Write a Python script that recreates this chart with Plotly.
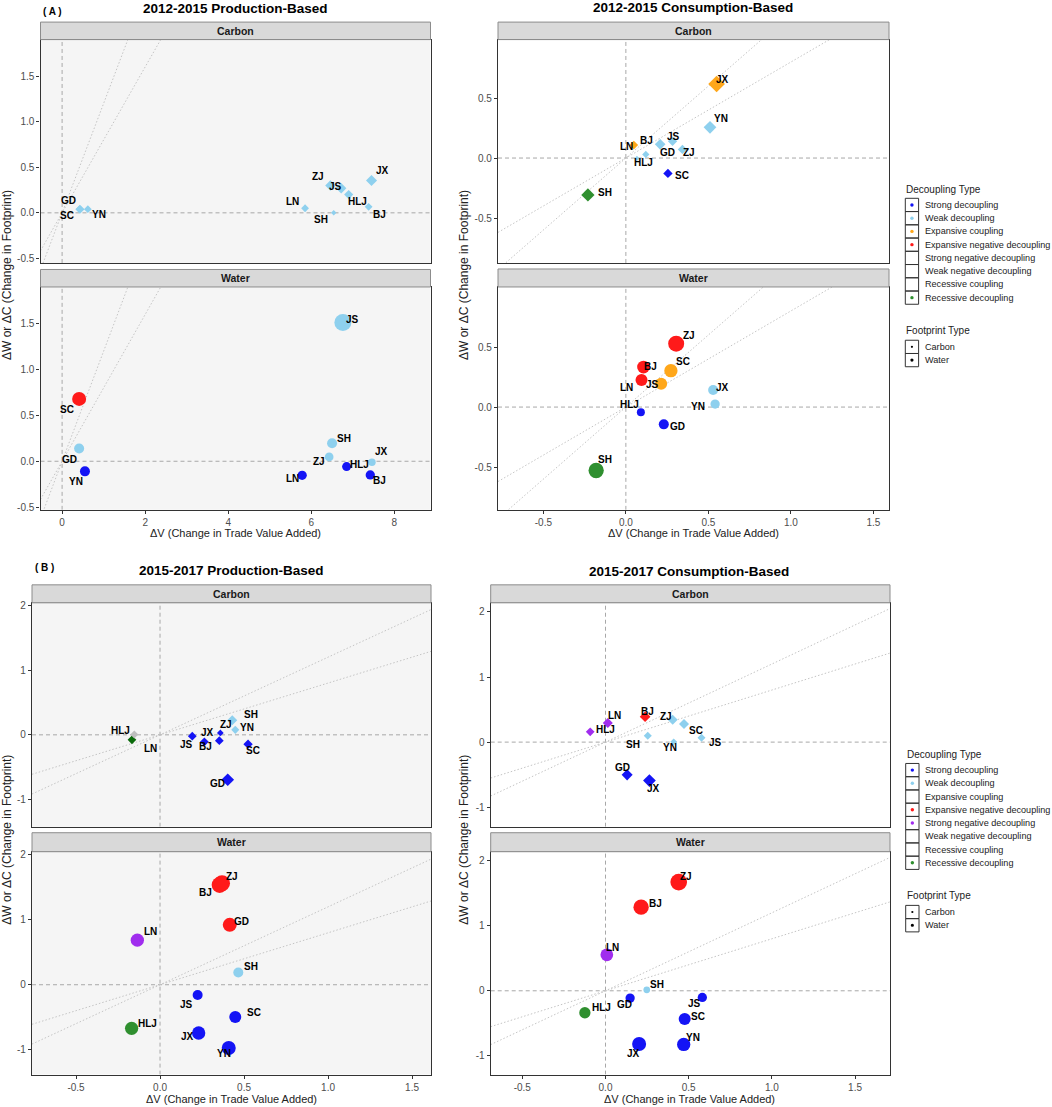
import plotly.graph_objects as go

W = 1052
H = 1107

## province order is the same for every panel
labels = ["BJ", "GD", "HLJ", "JS", "JX", "LN", "SC", "SH", "YN", "ZJ"]

## (A) 2012-2015 production, carbon
ap_c_x = [7.38, 0.43, 6.90, 6.72, 7.45, 5.85, 0.42, 6.54, 0.62, 6.46]
ap_c_y = [0.066, 0.04, 0.20, 0.27, 0.355, 0.05, 0.04, 0.0, 0.04, 0.30]
ap_c_type = ["W", "W", "W", "W", "W", "W", "W", "W", "W", "W"]
ap_c_size = [6, 7, 7, 8, 8.5, 6, 6, 4.2, 6, 8]
ap_c_dx = [11.3, -11.3, 9, -5.3, 10.7, -12.7, -12.7, -12.3, 11, -12.7]
ap_c_dy = [-7.3, 9, -6.7, 1.7, 10, 7, -6, -6.7, -5.3, 9]

## (A) 2012-2015 production, water
ap_w_x = [7.42, 0.41, 6.85, 6.76, 7.46, 5.78, 0.41, 6.50, 0.55, 6.43]
ap_w_y = [-0.149, 0.14, -0.058, 1.513, -0.01, -0.153, 0.68, 0.196, -0.11, 0.047]
ap_w_type = ["S", "W", "S", "W", "W", "S", "EN", "W", "S", "W"]
ap_w_size = [9.3, 10, 9, 17, 7.5, 9.3, 14, 10, 10, 8.7]
ap_w_dx = [9.3, -10, 13.3, 9.3, 9.3, -10, -12, 11.7, -9, -10]
ap_w_dy = [-6, -11, 2, 3.3, 10.3, -3, -11, 4.3, -10, -4.3]

## (A) 2012-2015 consumption, carbon
ac_c_x = [0.121, 0.208, 0.067, 0.283, 0.55, 0.048, 0.255, -0.23, 0.51, 0.343]
ac_c_y = [0.03, 0.114, -0.003, 0.139, 0.617, 0.108, -0.128, -0.308, 0.256, 0.072]
ac_c_type = ["W", "W", "W", "W", "EC", "EC", "S", "RD", "W", "W"]
ac_c_size = [5.6, 8.2, 4, 7.2, 12.8, 6.7, 7.2, 10.2, 9.8, 7.2]
ac_c_dx = [1, 7, 7, 0.7, 6, -7, 14.3, 17.3, 10.7, 6.3]
ac_c_dy = [14, -8.3, -4, 5.3, 4.7, -1.7, -2.3, 2.7, 9.3, -2.7]

## (A) 2012-2015 consumption, water
ac_w_x = [0.107, 0.23, 0.091, 0.214, 0.529, 0.095, 0.273, -0.18, 0.541, 0.305]
ac_w_y = [0.333, -0.144, -0.044, 0.194, 0.142, 0.225, 0.303, -0.528, 0.025, 0.528]
ac_w_type = ["EN", "S", "S", "EC", "W", "EN", "EC", "RD", "W", "EN"]
ac_w_size = [12.7, 10, 8, 12, 10, 12, 13.3, 15.3, 9.3, 16]
ac_w_dx = [7.3, 13.3, -11, -9, 9.3, -15, 11.7, 9, -17, 13]
ac_w_dy = [0.7, -2, 8, -0.3, 2.7, -7.3, 8.7, 11.3, -2, 8]

## (B) 2015-2017 production, carbon
bp_c_x = [0.264, 0.403, -0.167, 0.192, 0.353, -0.153, 0.524, 0.43, 0.448, 0.359]
bp_c_y = [-0.108, -0.694, -0.077, -0.02, -0.09, 0.005, -0.144, 0.226, 0.077, 0.03]
bp_c_type = ["S", "S", "DG", "S", "S", "GR", "S", "W", "W", "S"]
bp_c_size = [6.7, 9.8, 6.7, 6.7, 6.7, 6.2, 7.2, 7.7, 6.2, 5.2]
bp_c_dx = [1, -10, -11, -5.7, -11.7, 16, 5.3, 18.7, 11.3, 5.3]
bp_c_dy = [-4.7, -3.7, 9.7, -8.7, 8, -14, -6.3, 6, 2, 8.3]

## (B) 2015-2017 production, water
bp_w_x = [0.355, 0.415, -0.169, 0.224, 0.23, -0.135, 0.448, 0.466, 0.409, 0.369]
bp_w_y = [1.538, 0.923, -0.672, -0.159, -0.744, 0.687, -0.497, 0.19, -0.974, 1.564]
bp_w_type = ["EN", "EN", "RD", "S", "S", "SN", "S", "W", "S", "EN"]
bp_w_size = [16, 14, 13.3, 10, 13.3, 13.3, 12, 10, 14, 16]
bp_w_dx = [-14, 12, 15.7, -11, -11.3, 13.3, 18.3, 13, -4.7, 10]
bp_w_dy = [-8, 3, 5, -9.7, -3.7, 8.3, 4.3, 6.3, -6, 7]

## (B) 2015-2017 consumption, carbon
bc_c_x = [0.238, 0.13, -0.092, 0.577, 0.264, 0.014, 0.472, 0.254, 0.41, 0.404]
bc_c_y = [0.39, -0.503, 0.159, 0.067, -0.59, 0.292, 0.277, 0.097, 0.005, 0.344]
bc_c_type = ["EN", "S", "SN", "W", "S", "SN", "W", "W", "W", "W"]
bc_c_size = [8.2, 8.5, 6.7, 6.2, 9.8, 7.7, 7.7, 6.2, 5.2, 7.7]
bc_c_dx = [2.3, -4.7, 15.3, 14, 4.3, 6.3, 12, -14.3, -3.7, -7]
bc_c_dy = [5.7, 7.7, 2.7, -5, -8, 7.3, -6, -9, -5.7, 3.3]

## (B) 2015-2017 consumption, water
bc_w_x = [0.214, 0.148, -0.124, 0.582, 0.202, 0.008, 0.476, 0.248, 0.47, 0.44]
bc_w_y = [1.287, -0.113, -0.338, -0.103, -0.82, 0.554, -0.436, 0.015, -0.826, 1.672]
bc_w_type = ["EN", "S", "RD", "S", "S", "SN", "S", "W", "S", "EN"]
bc_w_size = [15.3, 9.3, 11.3, 9.3, 14, 12.7, 12, 6.7, 13.3, 16.7]
bc_w_dx = [14.7, -6, 17, -8, -6, 5.3, 13.7, 10.3, 9, 7.7]
bc_w_dy = [3.3, -6, 5, -5.7, -9.3, 7.3, 3, 5.7, 7.3, 5.7]

## elasticity guide lines through the origin
slopes = [0.8, 1.2]

colors = {"S": "#1414F5", "W": "#8ED0EE", "EC": "#FFA71A", "EN": "#FF1A1A",
          "SN": "#A02DEE", "RD": "#2F8F2F", "DG": "#0A6A0A", "GR": "#BEBEBE"}

decoupling_names = ["Strong decoupling", "Weak decoupling", "Expansive coupling",
                    "Expansive negative decoupling", "Strong negative decoupling",
                    "Weak negative decoupling", "Recessive coupling", "Recessive decoupling"]
legend_a_keys = ["S", "W", "EC", "EN", None, None, None, "RD"]
legend_b_keys = ["S", "W", None, "EN", "SN", None, None, "RD"]
footprint_names = ["Carbon", "Water"]

ticks_a_prod_x = [0, 2, 4, 6, 8]
ticks_a_prod_y = [-0.5, 0, 0.5, 1, 1.5]
ticks_a_prod_y_text = ["-0.5", "0.0", "0.5", "1.0", "1.5"]
ticks_cons_x = [-0.5, 0, 0.5, 1, 1.5]
ticks_cons_x_text = ["-0.5", "0.0", "0.5", "1.0", "1.5"]
ticks_a_cons_y = [-0.5, 0, 0.5]
ticks_a_cons_y_text = ["-0.5", "0.0", "0.5"]
ticks_b_y = [-1, 0, 1, 2]
ticks_b_y_text = ["-1", "0", "1", "2"]

FONT = "Liberation Sans"
fig = go.Figure()
shapes = []
annots = []
axis_no = 0


def px(x):
    return x / W


def py(y):
    ## the rendered plot area came out about 3px short at top and bottom
    return 1 - (y - 2.9) / (H - 5.5)


def paper_text(x, y, text, size, bold=False, color="#111111", angle=0, anchor="center"):
    annots.append(dict(xref="paper", yref="paper", x=px(x), y=py(y), showarrow=False,
                       text="<b>{}</b>".format(text) if bold else text, textangle=angle,
                       xanchor=anchor, yanchor="middle",
                       font=dict(family=FONT, size=size, color=color)))


def add_panel(name, xs, ys, types, sizes, dxs, dys, symbol, left, right, strip_top, top, bottom,
              xrange, yrange, xticks, xtext, yticks, ytext, bg, show_x):
    global axis_no
    axis_no += 1
    suffix = "" if axis_no == 1 else str(axis_no)
    xa = "x" + suffix
    ya = "y" + suffix
    fig.layout["xaxis" + suffix] = dict(domain=[px(left), px(right)], range=xrange, anchor=ya,
                                        showgrid=False, zeroline=False, showline=True, mirror=True,
                                        linecolor="#333333", linewidth=1.3,
                                        ticks="outside" if show_x else "", ticklen=3, tickcolor="#333333",
                                        tickvals=xticks if show_x else [], ticktext=xtext if show_x else [],
                                        tickfont=dict(family=FONT, size=10, color="#4D4D4D"))
    fig.layout["yaxis" + suffix] = dict(domain=[py(bottom), py(top)], range=yrange, anchor=xa,
                                        showgrid=False, zeroline=False, showline=True, mirror=True,
                                        linecolor="#333333", linewidth=1.3,
                                        ticks="outside", ticklen=3, tickcolor="#333333",
                                        tickvals=yticks, ticktext=ytext,
                                        tickfont=dict(family=FONT, size=10, color="#4D4D4D"))
    ## panel background, facet strip and zero lines
    shapes.append(dict(type="rect", xref="paper", yref="paper", x0=px(left), x1=px(right),
                       y0=py(bottom), y1=py(top), fillcolor=bg, line_width=0, layer="below"))
    shapes.append(dict(type="rect", xref="paper", yref="paper", x0=px(left), x1=px(right),
                       y0=py(top), y1=py(strip_top), fillcolor="#D9D9D9",
                       line=dict(color="#8C8C8C", width=1)))
    paper_text((left + right) / 2, (strip_top + top) / 2, name, 10.5, bold=True, color="#1A1A1A")
    shapes.append(dict(type="line", xref=xa, yref=ya, x0=0, x1=0, y0=yrange[0], y1=yrange[1],
                       line=dict(color="#A8A8A8", width=1, dash="4px,3px"), layer="below"))
    shapes.append(dict(type="line", xref=xa, yref=ya, x0=xrange[0], x1=xrange[1], y0=0, y1=0,
                       line=dict(color="#A8A8A8", width=1, dash="4px,3px"), layer="below"))
    for s in slopes:
        fig.add_trace(go.Scatter(x=xrange, y=[xrange[0] * s, xrange[1] * s], mode="lines", xaxis=xa, yaxis=ya,
                                 line=dict(color="#C4C4C4", width=1, dash="1.5px,2px"),
                                 hoverinfo="skip", showlegend=False))
    fig.add_trace(go.Scatter(x=xs, y=ys, mode="markers", xaxis=xa, yaxis=ya, text=labels,
                             marker=dict(symbol=symbol, size=sizes, color=[colors[t] for t in types],
                                         opacity=1, line_width=0),
                             showlegend=False))
    for lab, x, y, dx, dy in zip(labels, xs, ys, dxs, dys):
        annots.append(dict(xref=xa, yref=ya, x=x, y=y, xshift=dx, yshift=dy, text="<b>{}</b>".format(lab),
                           showarrow=False, font=dict(family=FONT, size=10, color="#000000")))


def add_legend(box_left, title_y, keys_top, keys, foot_title_y, foot_top):
    row = 13.25
    box_w = 13.3
    text_left = box_left + 17.5
    paper_text(box_left - 1, title_y, "Decoupling Type", 10, color="#222222", anchor="left")
    for i, name in enumerate(decoupling_names):
        y0 = keys_top + i * row
        shapes.append(dict(type="rect", xref="paper", yref="paper", x0=px(box_left), x1=px(box_left + box_w),
                           y0=py(y0 + row), y1=py(y0), line=dict(color="#333333", width=1)))
        if keys[i] is not None:
            cx = box_left + box_w / 2
            cy = y0 + row / 2
            r = 1.7
            shapes.append(dict(type="circle", xref="paper", yref="paper", x0=px(cx - r), x1=px(cx + r),
                               y0=py(cy + r), y1=py(cy - r), fillcolor=colors[keys[i]], line_width=0))
        paper_text(text_left, y0 + row / 2, name, 9.1, color="#222222", anchor="left")
    paper_text(box_left - 1, foot_title_y, "Footprint Type", 10, color="#222222", anchor="left")
    for i, name in enumerate(footprint_names):
        y0 = foot_top + i * row
        shapes.append(dict(type="rect", xref="paper", yref="paper", x0=px(box_left), x1=px(box_left + box_w),
                           y0=py(y0 + row), y1=py(y0), line=dict(color="#333333", width=1)))
        cx = box_left + box_w / 2
        cy = y0 + row / 2
        r = 1.1 if i == 0 else 1.6
        shapes.append(dict(type="circle", xref="paper", yref="paper", x0=px(cx - r), x1=px(cx + r),
                           y0=py(cy + r), y1=py(cy - r), fillcolor="#000000", line_width=0))
        paper_text(text_left, y0 + row / 2, name, 9.1, color="#222222", anchor="left")


GREY_BG = "#F5F5F5"
WHITE_BG = "#FFFFFF"
ticks_a_prod_x_text = [str(v) for v in ticks_a_prod_x]

add_panel("Carbon", ap_c_x, ap_c_y, ap_c_type, ap_c_size, ap_c_dx, ap_c_dy, "diamond",
          40.5, 430.5, 22, 39.5, 263, [-0.52, 8.87], [-0.55, 1.90],
          ticks_a_prod_x, ticks_a_prod_x_text, ticks_a_prod_y, ticks_a_prod_y_text, GREY_BG, False)
add_panel("Water", ap_w_x, ap_w_y, ap_w_type, ap_w_size, ap_w_dx, ap_w_dy, "circle",
          40.5, 430.5, 269.5, 287, 510, [-0.52, 8.87], [-0.53, 1.90],
          ticks_a_prod_x, ticks_a_prod_x_text, ticks_a_prod_y, ticks_a_prod_y_text, GREY_BG, True)
add_panel("Carbon", ac_c_x, ac_c_y, ac_c_type, ac_c_size, ac_c_dx, ac_c_dy, "diamond",
          498, 889, 22, 39.5, 263, [-0.775, 1.595], [-0.875, 0.9875],
          ticks_cons_x, ticks_cons_x_text, ticks_a_cons_y, ticks_a_cons_y_text, WHITE_BG, False)
add_panel("Water", ac_w_x, ac_w_y, ac_w_type, ac_w_size, ac_w_dx, ac_w_dy, "circle",
          498, 889, 269, 287, 510, [-0.775, 1.595], [-0.856, 1.0],
          ticks_cons_x, ticks_cons_x_text, ticks_a_cons_y, ticks_a_cons_y_text, WHITE_BG, True)
add_panel("Carbon", bp_c_x, bp_c_y, bp_c_type, bp_c_size, bp_c_dx, bp_c_dy, "diamond",
          32, 431, 585, 603, 827, [-0.762, 1.613], [-1.42, 2.04],
          ticks_cons_x, ticks_cons_x_text, ticks_b_y, ticks_b_y_text, GREY_BG, False)
add_panel("Water", bp_w_x, bp_w_y, bp_w_type, bp_w_size, bp_w_dx, bp_w_dy, "circle",
          32, 431, 833, 852, 1075, [-0.762, 1.613], [-1.385, 2.05],
          ticks_cons_x, ticks_cons_x_text, ticks_b_y, ticks_b_y_text, GREY_BG, True)
add_panel("Carbon", bc_c_x, bc_c_y, bc_c_type, bc_c_size, bc_c_dx, bc_c_dy, "diamond",
          490.7, 890, 585, 603, 827, [-0.69, 1.71], [-1.30, 2.14],
          ticks_cons_x, ticks_cons_x_text, ticks_b_y, ticks_b_y_text, WHITE_BG, False)
add_panel("Water", bc_w_x, bc_w_y, bc_w_type, bc_w_size, bc_w_dx, bc_w_dy, "circle",
          490.7, 890, 833, 852, 1075, [-0.69, 1.71], [-1.29, 2.14],
          ticks_cons_x, ticks_cons_x_text, ticks_b_y, ticks_b_y_text, WHITE_BG, True)

add_legend(905.3, 189, 198.3, legend_a_keys, 330.7, 340.3)
add_legend(905.7, 754.3, 763.7, legend_b_keys, 895.7, 905.7)

paper_text(235, 8, "2012-2015 Production-Based", 13.5, bold=True, color="#000000")
paper_text(693, 7, "2012-2015 Consumption-Based", 13.5, bold=True, color="#000000")
paper_text(231, 571, "2015-2017 Production-Based", 13.5, bold=True, color="#000000")
paper_text(689, 572, "2015-2017 Consumption-Based", 13.5, bold=True, color="#000000")
paper_text(52, 11, "( A )", 10, bold=True, color="#000000")
paper_text(44, 568, "( B )", 10, bold=True, color="#000000")

XT = "ΔV (Change in Trade Value Added)"
YT = "ΔW or ΔC (Change in Footprint)"
for cx, cy in [(235, 533), (693, 533), (231, 1099), (689, 1099)]:
    paper_text(cx, cy, XT, 11, color="#222222")
for cx, cy in [(7, 275), (464, 275), (7, 840), (464, 840)]:
    paper_text(cx, cy, YT, 12, color="#222222", angle=-90)

fig.update_layout(width=W, height=H, margin=dict(l=0, r=0, t=0, b=0), autosize=False,
                  paper_bgcolor="#FFFFFF", plot_bgcolor="rgba(0,0,0,0)", showlegend=False,
                  shapes=shapes, annotations=annots, font=dict(family=FONT))

fig.write_html("out.html", config=dict(displayModeBar=False),
               post_script="document.body.style.margin='0';document.documentElement.style.overflow='hidden';")
